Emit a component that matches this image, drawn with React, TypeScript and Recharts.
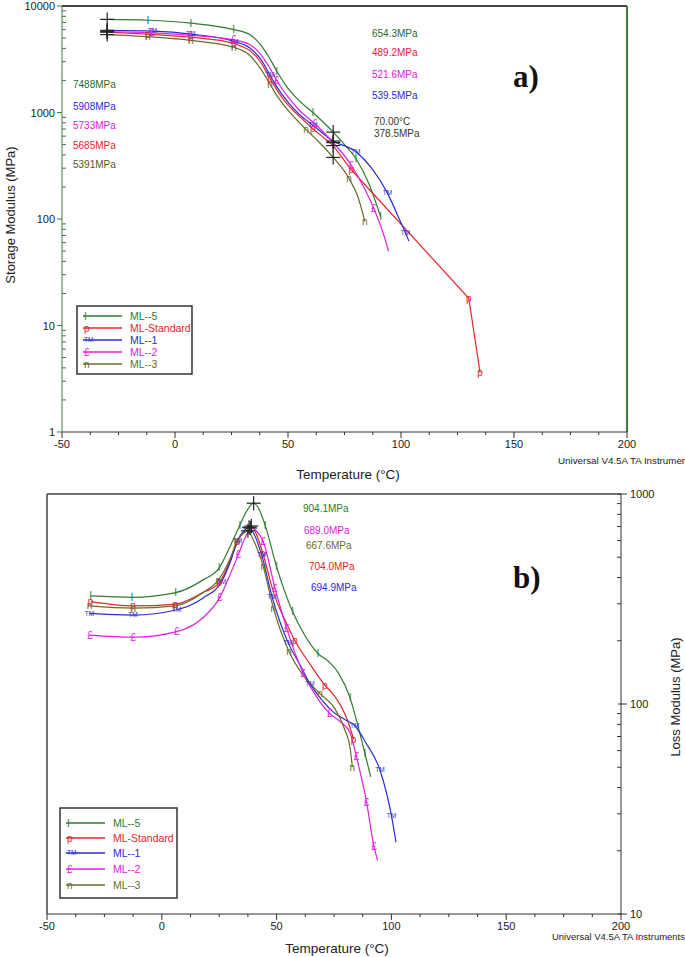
import React from 'react';
import { ComposedChart, Line, Scatter, XAxis, YAxis, ReferenceLine } from 'recharts';

const FONT = '"Liberation Sans", Arial, sans-serif';
const SERIF = '"Liberation Serif", "Times New Roman", serif';

// ---- series meta ----
const seriesNames = ['ML--5', 'ML-Standard', 'ML--1', 'ML--2', 'ML--3'];
const seriesColors = ['#2f7a30', '#e3262b', '#2b2bd0', '#e020dc', '#6a6a2a'];
const seriesGlyphs = ['I', 'p', 'TM', '£', 'n'];

// ---- tick values ----
const tempTicks = [-50, -37.5, -25, -12.5, 0, 12.5, 25, 37.5, 50, 62.5, 75, 87.5, 100, 112.5, 125, 137.5, 150, 162.5, 175, 187.5, 200];
const tempLabels = [-50, 0, 50, 100, 150, 200];
const storageTicks = [1, 2, 3, 4, 5, 6, 7, 8, 9, 10, 20, 30, 40, 50, 60, 70, 80, 90, 100, 200, 300, 400, 500, 600, 700, 800, 900, 1000, 2000, 3000, 4000, 5000, 6000, 7000, 8000, 9000, 10000];
const storageLabels = [1, 10, 100, 1000, 10000];
const lossTicks = [10, 20, 30, 40, 50, 60, 70, 80, 90, 100, 200, 300, 400, 500, 600, 700, 800, 900, 1000];
const lossLabels = [10, 100, 1000];

// ---- a) Storage modulus (MPa) vs temperature (°C) ----
const storageML5: [number, number][] = [[-30, 7488], [-12, 7350], [7, 6900], [26, 6000], [33, 5400], [38, 4300], [42, 3200], [45, 2450], [49, 1800], [54, 1350], [61, 1000], [70, 654.3], [75, 500], [80, 370], [86, 210], [91, 105]];
const storageStd: [number, number][] = [[-30, 5685], [-12, 5450], [7, 5100], [20, 4750], [26, 4450], [30, 4150], [33, 3850], [36, 3350], [38, 2950], [40, 2500], [42, 2100], [44, 1780], [46, 1520], [48, 1320], [50, 1180], [53, 1010], [56, 880], [61, 700], [65, 600], [70, 489.2], [78, 290], [130, 18], [135, 3.6]];
const storageML1: [number, number][] = [[-30, 5908], [-10, 5800], [7, 5450], [26, 4650], [33, 4050], [38, 3150], [42, 2250], [45, 1750], [50, 1250], [55, 960], [61, 760], [70, 539.5], [80, 430], [87, 300], [94, 175], [100, 92], [102, 74], [103.5, 62]];
const storageML2: [number, number][] = [[-30, 5733], [-10, 5600], [7, 5300], [26, 4800], [33, 4350], [38, 3500], [42, 2600], [45, 2000], [50, 1400], [55, 1050], [62, 780], [70, 521.6], [78, 320], [84, 190], [88, 125], [92, 75], [94.5, 50]];
const storageML3: [number, number][] = [[-30, 5391], [-12, 5150], [7, 4750], [26, 4100], [33, 3450], [38, 2550], [42, 1850], [45, 1450], [50, 1050], [58, 690], [64, 520], [70, 378.5], [77, 240], [81, 160], [84, 95]];

const storageMarksML5 = [-12, 7, 26, 45, 61, 80, 91];
const storageMarksStd = [-12, 7, 26, 42, 61, 78, 130, 135];
const storageMarksML1 = [-10, 7, 26, 42, 61, 80, 94, 102];
const storageMarksML2 = [-10, 7, 26, 45, 62, 78, 88];
const storageMarksML3 = [-12, 7, 26, 42, 58, 77, 84];

const storageCrosses: [number, number][] = [[-30, 7488], [-30, 5908], [-30, 5733], [-30, 5685], [-30, 5391], [70, 654.3], [70, 489.2], [70, 521.6], [70, 539.5], [70, 378.5]];

// ---- b) Loss modulus (MPa) vs temperature (°C) ----
const lossML5: [number, number][] = [[-31, 327], [-13, 322], [6, 339], [18, 390], [25, 445], [30, 570], [34, 711], [37, 830], [40, 904.1], [42, 860], [45, 711], [50, 450], [57, 275], [62, 215], [68, 174], [73, 158], [77, 140], [82, 107], [85.5, 78], [88.5, 58], [91, 45]];
const lossStd: [number, number][] = [[-31, 307], [-12.5, 293], [6, 299], [18, 340], [25, 377], [30, 490], [33, 593], [36, 670], [39, 704], [42, 610], [44, 522], [49, 331], [53, 260], [58, 200], [64, 158], [71, 123], [75, 110], [78, 98], [81, 83], [83.5, 68]];
const lossML1: [number, number][] = [[-31.5, 270], [-12.5, 265], [6.5, 281], [18, 320], [26, 382], [30, 480], [33, 602], [36, 670], [38, 694.9], [40, 650], [43.5, 513], [48, 325], [55, 196], [60, 155], [64.5, 125], [69, 107], [74.5, 92], [80, 84], [84, 79], [89, 65], [95, 48.5], [100, 29.5], [102, 22]];
const lossML2: [number, number][] = [[-31.3, 213], [-12.4, 208], [6.5, 221], [18, 258], [25.3, 322], [30, 420], [33.3, 513], [36, 610], [39, 689], [41, 670], [44.2, 593], [49.3, 356], [54.4, 229], [61.6, 140], [67, 110], [73.2, 90], [78, 82], [82, 73], [84.8, 56], [89.2, 34], [92.4, 21], [94, 18]];
const lossML3: [number, number][] = [[-31.5, 293], [-12.4, 286], [5.7, 293], [18, 340], [24.6, 389], [30, 500], [32.6, 593], [35.5, 650], [37.5, 667.6], [40, 600], [44.2, 451], [48.6, 286], [55.4, 178], [62, 135], [68.9, 112], [75.4, 95], [79.8, 75], [82, 62], [83, 50]];

const lossMarksML5 = [-31, -13, 6, 25, 34, 45, 50, 57, 68, 82, 88.5];
const lossMarksStd = [-31, -12.5, 6, 25, 33, 44, 58, 71, 83.5];
const lossMarksML1 = [-31.5, -12.5, 6.5, 26, 33, 43.5, 48, 55, 64.5, 84, 95, 100];
const lossMarksML2 = [-31.3, -12.4, 6.5, 25.3, 33.3, 44.2, 49.3, 54.4, 61.6, 73.2, 84.8, 89.2, 92.4];
const lossMarksML3 = [-31.5, -12.4, 5.7, 24.6, 32.6, 44.2, 48.6, 55.4, 68.9, 83];

const lossCrosses: [number, number][] = [[40, 904.1], [38.5, 689], [37.5, 667.6], [39, 704], [38, 694.9]];

// ---- annotations ----
const storageLeftNotes = ['7488MPa', '5908MPa', '5733MPa', '5685MPa', '5391MPa'];
const storageLeftNoteColors = ['#2a6a2a', '#2b2bd0', '#e020dc', '#e3262b', '#555530'];
const storageRightNotes = ['654.3MPa', '489.2MPa', '521.6MPa', '539.5MPa'];
const storageRightNoteColors = ['#2a6a2a', '#e3262b', '#e020dc', '#2b2bd0'];
const lossNotes = ['904.1MPa', '689.0MPa', '667.6MPa', '704.0MPa', '694.9MPa'];
const lossNoteColors = ['#2a7a2a', '#e020dc', '#6a6a2a', '#e3262b', '#2b2bd0'];

const rows = (pts: [number, number][]) => pts.map(([t, v]) => ({ t, v }));

const storageSeries = [
  { pts: storageML5, marks: storageMarksML5, curve: 'monotone' },
  { pts: storageStd, marks: storageMarksStd, curve: 'linear' },
  { pts: storageML1, marks: storageMarksML1, curve: 'monotone' },
  { pts: storageML2, marks: storageMarksML2, curve: 'monotone' },
  { pts: storageML3, marks: storageMarksML3, curve: 'monotone' },
];
const lossSeries = [
  { pts: lossML5, marks: lossMarksML5 },
  { pts: lossStd, marks: lossMarksStd },
  { pts: lossML1, marks: lossMarksML1 },
  { pts: lossML2, marks: lossMarksML2 },
  { pts: lossML3, marks: lossMarksML3 },
];

const glyphSize = (ch: string) => (ch === 'TM' ? 6.5 : 10);

const makeDot = (i: number, marks: number[], tag: string) => (p: any) => {
  const key = `${tag}-${i}-${p.index}`;
  if (!p.payload || !marks.includes(p.payload.t) || p.cx == null || p.cy == null) return <g key={key} />;
  const ch = seriesGlyphs[i];
  return (
    <text key={key} x={p.cx} y={p.cy} dy="0.35em" textAnchor="middle" fontSize={glyphSize(ch)}
      fill={seriesColors[i]} fontFamily={FONT}>{ch}</text>
  );
};

const CrossShape = (p: any) => {
  if (p.cx == null || p.cy == null) return <g />;
  return (
    <g>
      <line x1={p.cx - 7} x2={p.cx + 7} y1={p.cy} y2={p.cy} stroke="#222" strokeWidth={1.2} />
      <line x1={p.cx} x2={p.cx} y1={p.cy - 7} y2={p.cy + 7} stroke="#222" strokeWidth={1.2} />
    </g>
  );
};

const XTick = (p: any) => {
  const { x, y, payload } = p;
  const v = payload.value;
  const major = tempLabels.includes(v);
  return (
    <g>
      <line x1={x} x2={x} y1={y} y2={y + (major ? 6 : 3)} stroke="#333" strokeWidth={1} />
      {major && (
        <text x={x} y={y + 16} textAnchor="middle" fontSize={11} fontFamily={FONT} fill="#222">{v}</text>
      )}
    </g>
  );
};

const YTickLeft = (p: any) => {
  const { x, y, payload } = p;
  const v = payload.value;
  const major = storageLabels.includes(v);
  return (
    <g>
      <line x1={major ? x - 5 : x} x2={major ? x : x + 4} y1={y} y2={y} stroke="#3d7d3d" strokeWidth={1} />
      {major && (
        <text x={x - 7} y={y + 4} textAnchor="end" fontSize={11} fontFamily={FONT} fill="#222">{v}</text>
      )}
    </g>
  );
};

const YTickRight = (p: any) => {
  const { x, y, payload } = p;
  const v = payload.value;
  const major = lossLabels.includes(v);
  return (
    <g>
      <line x1={major ? x - 3 : x - 4} x2={major ? x + 6 : x} y1={y} y2={y} stroke="#333" strokeWidth={1} />
      {major && (
        <text x={x + 9} y={y + 4} textAnchor="start" fontSize={11} fontFamily={FONT} fill="#222">{v}</text>
      )}
    </g>
  );
};

const Legend = ({ x, y, w, h, rowYs, lx1, lx2, tx }: any) => (
  <g>
    <rect x={x} y={y} width={w} height={h} fill="#fff" stroke="#333" strokeWidth={1.5} />
    {seriesNames.map((n, i) => (
      <g key={n}>
        <line x1={lx1} x2={lx2} y1={rowYs[i]} y2={rowYs[i]} stroke={seriesColors[i]} strokeWidth={1.3} />
        <text x={lx1 + 1} y={rowYs[i]} dy="0.35em" textAnchor="start" fontSize={glyphSize(seriesGlyphs[i])}
          fill={seriesColors[i]} fontFamily={FONT}>{seriesGlyphs[i]}</text>
        <text x={tx} y={rowYs[i]} dy="0.35em" fontSize={10.5} fill={seriesColors[i]} fontFamily={FONT}>{n}</text>
      </g>
    ))}
  </g>
);

export default function App() {
  return (
    <div style={{ position: 'absolute', left: 0, top: 0, width: 685, height: 957, background: '#fff', overflow: 'hidden' }}>
      {/* a) storage modulus */}
      <div style={{ position: 'absolute', left: 0, top: 0 }}>
        <ComposedChart width={685} height={490} margin={{ top: 6, right: 58, bottom: 0, left: 0 }}>
          <XAxis type="number" dataKey="t" domain={[-50, 200]} ticks={tempTicks} interval={0} tickSize={0} tickMargin={0}
            height={58} tick={(p: any) => <XTick {...p} />} axisLine={{ stroke: '#333' }} allowDataOverflow />
          <YAxis type="number" dataKey="v" scale="log" domain={[1, 10000]} ticks={storageTicks} interval={0} tickSize={0}
            tickMargin={0} width={62} tick={(p: any) => <YTickLeft {...p} />} axisLine={{ stroke: '#3d7d3d' }} allowDataOverflow />
          <ReferenceLine y={10000} stroke="#444" strokeWidth={2} />
          <ReferenceLine x={200} stroke="#3d7d3d" strokeWidth={2} />
          {storageSeries.map((s, i) => (
            <Line key={`s${i}`} data={rows(s.pts)} dataKey="v" type={s.curve as any} stroke={seriesColors[i]} strokeWidth={1.2}
              dot={makeDot(i, s.marks, 'sd')} activeDot={false} isAnimationActive={false} />
          ))}
          <Scatter data={rows(storageCrosses)} dataKey="v" shape={CrossShape} isAnimationActive={false} />
        </ComposedChart>
      </div>

      {/* b) loss modulus */}
      <div style={{ position: 'absolute', left: 0, top: 480 }}>
        <ComposedChart width={685} height={477} margin={{ top: 14, right: 0, bottom: 0, left: 47 }}>
          <XAxis type="number" dataKey="t" domain={[-50, 200]} ticks={tempTicks} interval={0} tickSize={0} tickMargin={0}
            height={43} tick={(p: any) => <XTick {...p} />} axisLine={{ stroke: '#333' }} allowDataOverflow />
          <YAxis type="number" dataKey="v" orientation="right" scale="log" domain={[10, 1000]} ticks={lossTicks} interval={0}
            tickSize={0} tickMargin={0} width={64} tick={(p: any) => <YTickRight {...p} />} axisLine={{ stroke: '#333' }} allowDataOverflow />
          <ReferenceLine y={1000} stroke="#444" strokeWidth={1.5} />
          <ReferenceLine x={-50} stroke="#444" strokeWidth={1.5} />
          {lossSeries.map((s, i) => (
            <Line key={`l${i}`} data={rows(s.pts)} dataKey="v" type="monotone" stroke={seriesColors[i]} strokeWidth={1.2}
              dot={makeDot(i, s.marks, 'ld')} activeDot={false} isAnimationActive={false} />
          ))}
          <Scatter data={rows(lossCrosses)} dataKey="v" shape={CrossShape} isAnimationActive={false} />
        </ComposedChart>
      </div>

      {/* text overlay */}
      <svg width={685} height={957} style={{ position: 'absolute', left: 0, top: 0, pointerEvents: 'none' }}>
        {/* a) */}
        <text x={10} y={215} transform="rotate(-90 10 215)" textAnchor="middle" dy="0.35em" fontSize={13} fontFamily={FONT} fill="#222">Storage Modulus (MPa)</text>
        <text x={348} y={474} textAnchor="middle" dy="0.35em" fontSize={13.5} fontFamily={FONT} fill="#222">Temperature (°C)</text>
        <text x={558} y={461} dy="0.35em" fontSize={9.5} fontFamily={FONT} fill="#222" textLength={132} lengthAdjust="spacingAndGlyphs">Universal V4.5A TA Instrument</text>
        {storageLeftNotes.map((t, i) => (
          <text key={t} x={73} y={[84, 106, 125, 145, 164][i]} dy="0.35em" fontSize={10} fontFamily={FONT} fill={storageLeftNoteColors[i]}>{t}</text>
        ))}
        {storageRightNotes.map((t, i) => (
          <text key={t} x={372} y={[33, 52, 74, 95][i]} dy="0.35em" fontSize={10} fontFamily={FONT} fill={storageRightNoteColors[i]}>{t}</text>
        ))}
        <text x={374} y={121} dy="0.35em" fontSize={10} fontFamily={FONT} fill="#3a3a22">70.00°C</text>
        <text x={374} y={133} dy="0.35em" fontSize={10} fontFamily={FONT} fill="#3a3a22">378.5MPa</text>
        <text x={513} y={76} dy="0.35em" fontSize={31} fontWeight="bold" fontFamily={SERIF} fill="#111">a)</text>
        <Legend x={77} y={306} w={115} h={68} rowYs={[316, 328, 340, 352, 364]} lx1={83} lx2={122} tx={130} />

        {/* b) */}
        <text x={675} y={697} transform="rotate(-90 675 697)" textAnchor="middle" dy="0.35em" fontSize={13} fontFamily={FONT} fill="#222">Loss Modulus (MPa)</text>
        <text x={337} y={948} textAnchor="middle" dy="0.35em" fontSize={13.5} fontFamily={FONT} fill="#222">Temperature (°C)</text>
        <text x={552} y={937} dy="0.35em" fontSize={9.5} fontFamily={FONT} fill="#222" textLength={133} lengthAdjust="spacingAndGlyphs">Universal V4.5A TA Instruments</text>
        {lossNotes.map((t, i) => (
          <text key={t} x={[303, 304, 306, 309, 311][i]} y={[508, 530, 545, 566, 587][i]} dy="0.35em" fontSize={10} fontFamily={FONT} fill={lossNoteColors[i]}>{t}</text>
        ))}
        <text x={513} y={577} dy="0.35em" fontSize={31} fontWeight="bold" fontFamily={SERIF} fill="#111">b)</text>
        <Legend x={60} y={808} w={117} h={90} rowYs={[823, 838, 853, 869, 885]} lx1={66} lx2={105} tx={113} />
      </svg>
    </div>
  );
}
